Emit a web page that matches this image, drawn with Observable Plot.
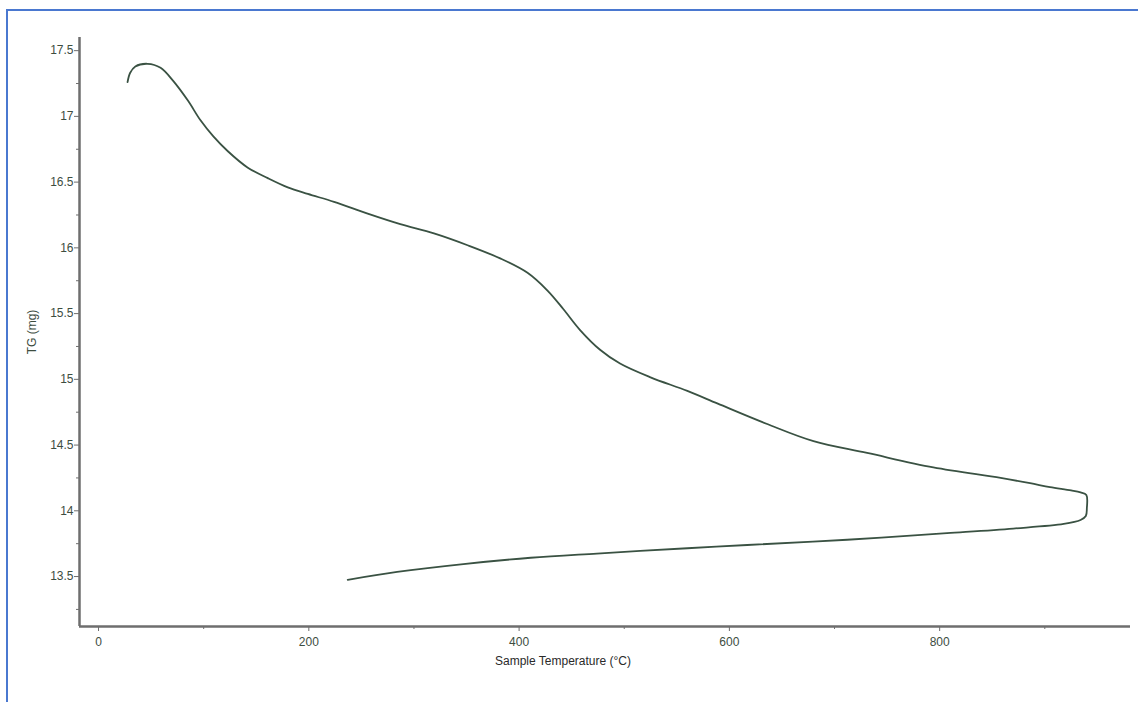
<!DOCTYPE html>
<html>
<head>
<meta charset="utf-8">
<script src="https://cdn.jsdelivr.net/npm/d3@7"></script>
<script src="https://cdn.jsdelivr.net/npm/@observablehq/plot@0.6"></script>
<style>
  html, body { margin: 0; padding: 0; background: #fff; }
  #wrap { position: relative; width: 1138px; height: 702px; overflow: hidden; background: #fff; }
  #frame { position: absolute; left: 6px; top: 9px; right: -10px; bottom: -10px;
           border-left: 2px solid #4a78d0; border-top: 2px solid #4a78d0; pointer-events: none; }
  #chart { position: absolute; left: 0; top: 0; }
</style>
</head>
<body>
<div id="wrap"><div id="chart"></div><div id="frame"></div></div>
<script>
// Sample temperature (°C) along the TG run (heating, then cooling back)
const temperature = [27.6, 30, 35, 46.6, 59, 71, 85, 97, 109, 123, 142, 161, 180, 199, 224, 256, 287, 319, 351, 382, 408, 427, 442, 458, 477, 496, 525, 560, 589, 636, 680, 731, 794, 858, 886, 905, 925, 934, 939.5, 940, 939, 934, 918, 870, 807, 712, 617, 560, 474, 411, 347, 284, 237];
// TG mass (mg)
const tg = [17.26, 17.33, 17.38, 17.40, 17.37, 17.27, 17.12, 16.97, 16.85, 16.735, 16.61, 16.53, 16.46, 16.41, 16.35, 16.26, 16.18, 16.11, 16.02, 15.92, 15.81, 15.675, 15.535, 15.375, 15.225, 15.12, 15.015, 14.912, 14.815, 14.66, 14.53, 14.44, 14.33, 14.25, 14.21, 14.18, 14.155, 14.14, 14.12, 14.02, 13.96, 13.93, 13.90, 13.865, 13.83, 13.78, 13.74, 13.715, 13.675, 13.643, 13.595, 13.535, 13.475];

const xTicks = [0, 200, 400, 600, 800];
const xMinorTicks = [100, 300, 500, 700, 900];
const yTicks = [13.5, 14, 14.5, 15, 15.5, 16, 16.5, 17, 17.5];
const yMinorTicks = [13.25, 13.75, 14.25, 14.75, 15.25, 15.75, 16.25, 16.75, 17.25];
const xLabel = "Sample Temperature (°C)";
const yLabel = "TG (mg)";

const xDomain = [-18.1, 981.5];
const yDomain = [13.12, 17.6];

const data = temperature.map((t, i) => ({t, w: tg[i]}));

const axisColor = "#6e6e6e";
const tickText = "#3d4d3f";

const chart = Plot.plot({
  width: 1138,
  height: 702,
  marginLeft: 79,
  marginRight: 8,
  marginTop: 37,
  marginBottom: 76,
  style: {fontFamily: "'Liberation Sans', Arial, sans-serif", fontSize: "12px", background: "transparent"},
  x: {domain: xDomain},
  y: {domain: yDomain},
  marks: [
    Plot.ruleX([xDomain[0]], {stroke: axisColor, strokeWidth: 2.5}),
    Plot.ruleY([yDomain[0]], {stroke: axisColor, strokeWidth: 2.5}),
    Plot.axisY(yMinorTicks, {tickSize: 3, text: null, stroke: axisColor, label: null}),
    Plot.axisX(xMinorTicks, {tickSize: 3, text: null, stroke: axisColor, label: null}),
    Plot.axisY({ticks: yTicks, tickSize: 5, tickPadding: 1, stroke: axisColor, fill: tickText,
      tickFormat: d => String(d), label: yLabel, labelAnchor: "center", labelArrow: "none",
      labelOffset: 52}),
    Plot.axisX({ticks: xTicks, tickSize: 5, tickPadding: 6, stroke: axisColor, fill: tickText,
      tickFormat: d => String(d), label: null}),
    Plot.text([xLabel], {frameAnchor: "bottom", dy: 38, dx: -42, fill: "#2a2a2a", fontSize: 12}),
    Plot.line(data, {x: "t", y: "w", stroke: "#3a5243", strokeWidth: 1.8, curve: "catmull-rom"})
  ]
});
document.getElementById("chart").append(chart);
</script>
</body>
</html>
